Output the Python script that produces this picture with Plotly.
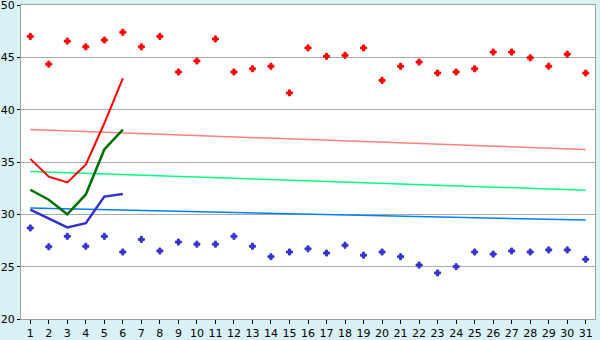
import plotly.graph_objects as go

days = list(range(1, 32))
red_points = [47.0, 44.35, 46.55, 46.0, 46.65, 47.4, 46.0, 47.0, 43.6, 44.65,
              46.75, 43.6, 43.9, 44.15, 41.6, 45.9, 45.1, 45.2, 45.9, 42.8,
              44.15, 44.55, 43.5, 43.6, 43.9, 45.5, 45.5, 44.95, 44.15, 45.3, 43.5]
blue_points = [28.7, 26.9, 27.9, 26.95, 27.9, 26.4, 27.6, 26.5, 27.35, 27.15,
               27.15, 27.9, 26.95, 25.95, 26.4, 26.7, 26.3, 27.05, 26.1, 26.4,
               25.95, 25.15, 24.4, 25.0, 26.4, 26.2, 26.5, 26.4, 26.6, 26.6, 25.7]
line_days = [1, 2, 3, 4, 5, 6]
red_line = [35.3, 33.6, 33.05, 34.75, 38.7, 43.0]
green_line = [32.35, 31.4, 30.0, 31.9, 36.2, 38.1]
blue_line = [30.45, 29.6, 28.75, 29.15, 31.7, 31.95]
trend_days = [1, 31]
red_trend = [38.1, 36.2]
green_trend = [34.1, 32.3]
blue_trend = [30.6, 29.45]
y_ticks = [20, 25, 30, 35, 40, 45, 50]

fig = go.Figure()
fig.add_trace(go.Scatter(x=trend_days, y=red_trend, mode="lines",
                         line=dict(color="#FF8080", width=1.5)))
fig.add_trace(go.Scatter(x=trend_days, y=green_trend, mode="lines",
                         line=dict(color="#00FF80", width=1.5)))
fig.add_trace(go.Scatter(x=trend_days, y=blue_trend, mode="lines",
                         line=dict(color="#0080FF", width=1.5)))
fig.add_trace(go.Scatter(x=line_days, y=red_line, mode="lines",
                         line=dict(color="#FF0000", width=2)))
fig.add_trace(go.Scatter(x=line_days, y=green_line, mode="lines",
                         line=dict(color="#007000", width=2.5)))
fig.add_trace(go.Scatter(x=line_days, y=blue_line, mode="lines",
                         line=dict(color="#3333CC", width=2.5)))
fig.add_trace(go.Scatter(x=days, y=red_points, mode="markers",
                         marker=dict(symbol="cross", size=5, color="#FF0000",
                                     line=dict(color="#FF0000", width=1))))
fig.add_trace(go.Scatter(x=days, y=blue_points, mode="markers",
                         marker=dict(symbol="cross", size=5, color="#3333CC",
                                     line=dict(color="#3333CC", width=1))))

axis_font = dict(family="DejaVu Sans", size=11, color="#000000")
fig.update_layout(
    width=600, height=340,
    margin=dict(l=21, r=5, t=5, b=21, autoexpand=False),
    paper_bgcolor="#DAF0F7",
    plot_bgcolor="#FFFFFF",
    showlegend=False,
    xaxis=dict(range=[0.5, 31.5], tickmode="array", tickvals=days,
               ticktext=[str(d) for d in days], ticks="outside", ticklen=4,
               tickcolor="#000000", showgrid=False, zeroline=False,
               showline=True, linecolor="#A0A0A0", linewidth=1, mirror=True,
               tickfont=axis_font, automargin=False),
    yaxis=dict(range=[20, 50], tickmode="array", tickvals=y_ticks,
               ticktext=[str(v) for v in y_ticks], ticks="outside", ticklen=3,
               tickcolor="#000000", showgrid=True, gridcolor="#AAAAAA",
               gridwidth=1, zeroline=False, showline=True, linecolor="#A0A0A0",
               linewidth=1, mirror=True, tickfont=axis_font,
               ticklabeloverflow="allow", automargin=False),
)
fig.write_html("out.html")
